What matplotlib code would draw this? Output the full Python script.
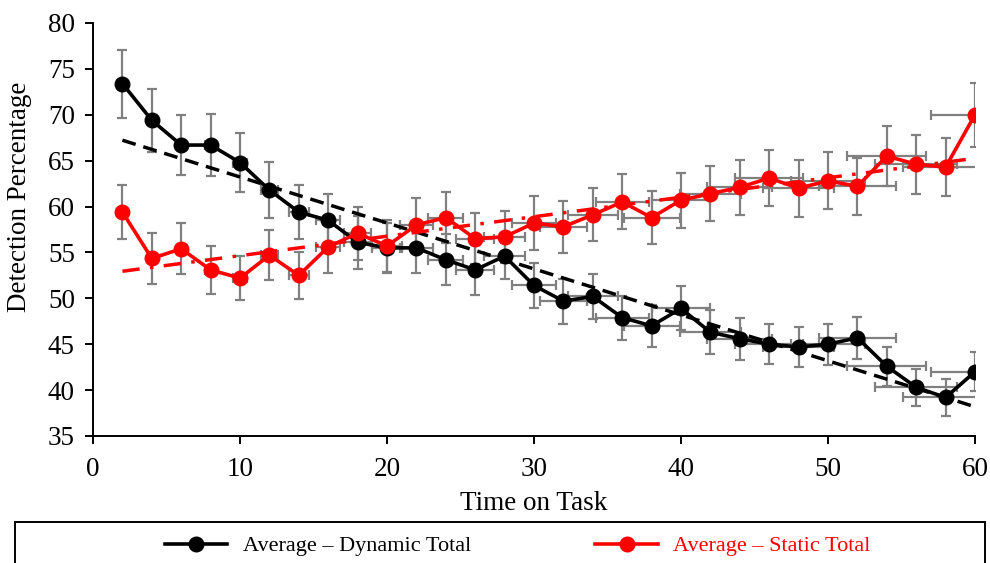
import numpy as np
import matplotlib
matplotlib.use("Agg")
import matplotlib.pyplot as plt
from matplotlib.patches import Rectangle

plt.rcParams['font.family'] = ['Liberation Serif', 'DejaVu Serif']

# time on task (minutes)
time = [2, 4, 6, 8, 10, 12, 14, 16, 18, 20, 22, 24, 26, 28, 30,
        32, 34, 36, 38, 40, 42, 44, 46, 48, 50, 52, 54, 56, 58, 60]

dynamic = [73.4, 69.4, 66.7, 66.7, 64.8, 61.8, 59.4, 58.5, 56.1, 55.5,
           55.5, 54.2, 53.1, 54.6, 51.4, 49.7, 50.2, 47.9, 47.0, 48.9,
           46.3, 45.6, 45.0, 44.7, 45.0, 45.7, 42.6, 40.3, 39.2, 42.0]
dynamic_err = [3.7, 3.45, 3.3, 3.4, 3.2, 3.1, 2.95, 2.9, 2.9, 2.7,
               2.7, 2.8, 2.7, 2.5, 2.5, 2.45, 2.5, 2.4, 2.3, 2.4,
               2.4, 2.3, 2.2, 2.2, 2.25, 2.3, 2.1, 2.0, 2.0, 2.1]

static = [59.4, 54.35, 55.4, 53.1, 52.2, 54.7, 52.5, 55.6, 57.1, 55.7,
          58.0, 58.8, 56.5, 56.7, 58.2, 57.8, 59.1, 60.5, 58.8, 60.7,
          61.4, 62.1, 63.1, 62.0, 62.8, 62.2, 65.5, 64.6, 64.3, 70.0]
static_err = [2.95, 2.75, 2.8, 2.6, 2.4, 2.7, 2.6, 2.8, 2.9, 2.8,
              2.9, 2.8, 2.8, 2.8, 2.9, 2.85, 2.9, 3.0, 2.9, 3.0,
              3.0, 3.0, 3.05, 3.1, 3.1, 3.1, 3.3, 3.25, 3.2, 3.5]

# horizontal error bars (same for both series)
time_err = [0.1, 0.2, 0.3, 0.4, 0.5, 0.6, 0.7, 0.8, 0.9, 1.0,
            1.1, 1.2, 1.3, 1.4, 1.5, 1.6, 1.7, 1.8, 1.9, 2.0,
            2.1, 2.2, 2.3, 2.4, 2.5, 2.6, 2.7, 2.8, 2.9, 3.0]

fig = plt.figure(figsize=(9.9, 5.63), dpi=100)
ax = fig.add_axes([93/990, 1-436/563, 882/990, 413/563])

grey = '#808080'
ax.errorbar(time, dynamic, yerr=dynamic_err, xerr=time_err, fmt='none',
            ecolor=grey, elinewidth=1.6, capsize=3.3, capthick=1.6, zorder=2)
ax.errorbar(time, static, yerr=static_err, xerr=time_err, fmt='none',
            ecolor=grey, elinewidth=1.6, capsize=3.3, capthick=1.6, zorder=2)

# linear trendlines
t = np.array(time)
k1 = np.polyfit(t, dynamic, 1)
k2 = np.polyfit(t, static, 1)
ax.plot(t, np.polyval(k1, t), color='black', lw=2.5, ls=(0, (4, 2.3)), zorder=3)
ax.plot(t, np.polyval(k2, t), color='red', lw=2.5, ls=(0, (5, 3, 1, 3)), zorder=3)

l1, = ax.plot(time, dynamic, color='black', lw=2.6, marker='o', ms=10.5,
              zorder=4, label='Average \u2013 Dynamic Total')
l2, = ax.plot(time, static, color='red', lw=2.6, marker='o', ms=10.5,
              zorder=4, label='Average \u2013 Static Total')

ax.set_xlim(0, 60)
ax.set_ylim(35, 80)
ax.set_xticks(range(0, 61, 10))
ax.set_yticks(range(35, 81, 5))
ax.spines['top'].set_visible(False)
ax.spines['right'].set_visible(False)
ax.spines['left'].set_linewidth(1.4)
ax.spines['bottom'].set_linewidth(1.4)
ax.tick_params(labelsize=19.5, length=6, width=1.4)
ax.tick_params(axis='y', pad=7)
ax.tick_params(axis='x', pad=9)

ax.set_xlabel('Time on Task', fontsize=19.5)
ax.set_ylabel('Detection Percentage', fontsize=19.5)
ax.xaxis.set_label_coords(0.5, -0.133)
ax.yaxis.set_label_coords(-0.069, 0.58)

# legend box runs off the bottom of the picture
fig.patches.append(Rectangle((15/990, -0.05), 970/990, 0.05 + 1-522/563,
                             transform=fig.transFigure, fill=False,
                             edgecolor='black', lw=1.4))
leg = fig.legend(handles=[l1, l2], loc='center', bbox_to_anchor=(0.523, 1-546/563),
                 ncol=2, frameon=False, fontsize=16, handlelength=2.8,
                 handletextpad=0.7, columnspacing=5.6)
leg.get_texts()[1].set_color('red')

fig.savefig('out.png', dpi=100)
